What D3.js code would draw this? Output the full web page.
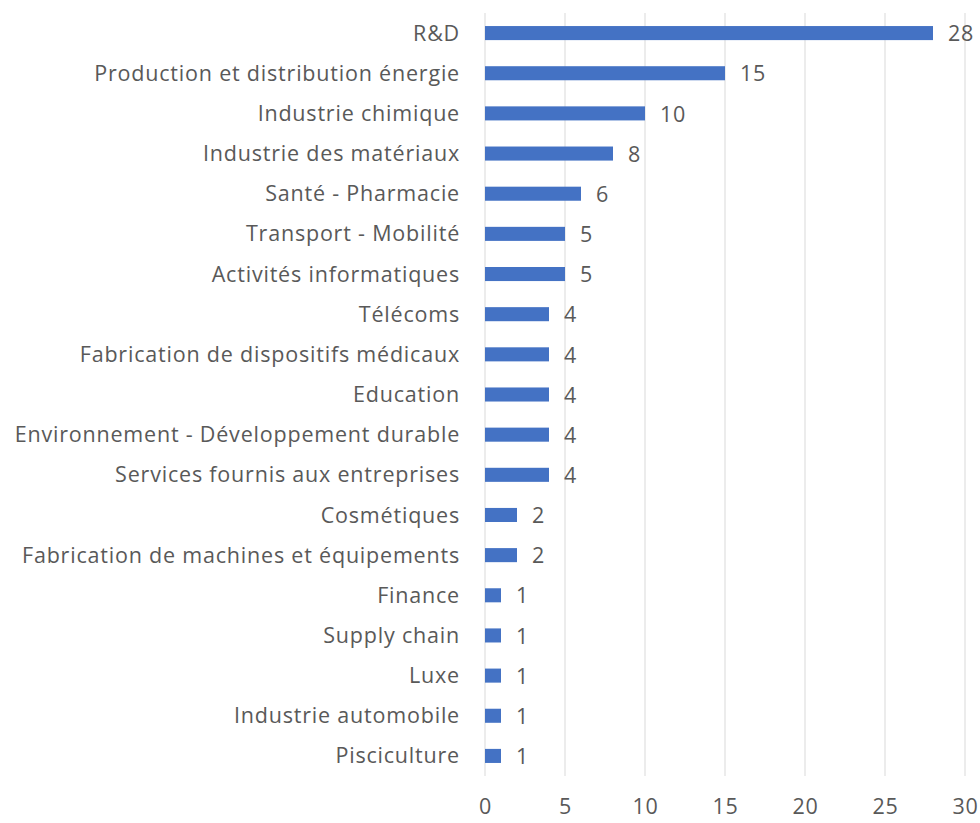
<!DOCTYPE html>
<html>
<head>
<meta charset="utf-8">
<script src="https://cdn.jsdelivr.net/npm/d3@7"></script>
<style>
  html, body { margin: 0; padding: 0; background: #fff; }
  svg { display: block; }
  text { font-family: "Open Sans", Lato, sans-serif; fill: #595959; }
</style>
</head>
<body>
<svg id="chart" width="980" height="823"></svg>
<script>
// Sectors and counts, top to bottom
const categories = [
  "R&D",
  "Production et distribution énergie",
  "Industrie chimique",
  "Industrie des matériaux",
  "Santé - Pharmacie",
  "Transport - Mobilité",
  "Activités informatiques",
  "Télécoms",
  "Fabrication de dispositifs médicaux",
  "Education",
  "Environnement - Développement durable",
  "Services fournis aux entreprises",
  "Cosmétiques",
  "Fabrication de machines et équipements",
  "Finance",
  "Supply chain",
  "Luxe",
  "Industrie automobile",
  "Pisciculture"
];
const values = [28, 15, 10, 8, 6, 5, 5, 4, 4, 4, 4, 4, 2, 2, 1, 1, 1, 1, 1];
const xTicks = [0, 5, 10, 15, 20, 25, 30];

const FONT = "'Open Sans', Lato, sans-serif";
const FONT_SIZE = "21.5px";
const SPACING = "0.8px";
const svg = d3.select("#chart");
const plot = { left: 485, right: 965, top: 13, bottom: 776 };

const x = d3.scaleLinear().domain([0, 30]).range([plot.left, plot.right]);
const y = d3.scaleBand()
  .domain(categories)
  .range([plot.top, plot.bottom])
  .paddingInner(0.65)
  .paddingOuter(0.325);

// Vertical gridlines
svg.append("g")
  .selectAll("line")
  .data(xTicks)
  .join("line")
  .attr("x1", d => x(d)).attr("x2", d => x(d))
  .attr("y1", plot.top).attr("y2", plot.bottom)
  .attr("stroke", "#d9d9d9")
  .attr("stroke-width", 1);

// X axis tick labels
const xAxis = d3.axisBottom(x).tickValues(xTicks).tickSize(0).tickPadding(0);
const gx = svg.append("g").attr("transform", `translate(0,${plot.bottom})`).call(xAxis);
gx.select(".domain").remove();
gx.selectAll("text")
  .attr("dy", null)
  .attr("y", 38)
  .style("font-size", FONT_SIZE)
  .style("letter-spacing", SPACING)
  .style("font-family", FONT)
  .attr("fill", "#595959");

// Category labels
const yAxis = d3.axisLeft(y).tickSize(0).tickPadding(0);
const gy = svg.append("g").attr("transform", `translate(${plot.left - 25},0)`).call(yAxis);
gy.select(".domain").remove();
gy.selectAll("text")
  .attr("dy", "0.35em")
  .style("font-size", FONT_SIZE)
  .style("letter-spacing", SPACING)
  .style("font-family", FONT)
  .attr("fill", "#595959");

// Bars
svg.append("g")
  .selectAll("rect")
  .data(categories)
  .join("rect")
  .attr("x", x(0))
  .attr("y", d => y(d))
  .attr("width", (d, i) => x(values[i]) - x(0))
  .attr("height", y.bandwidth())
  .attr("fill", "#4472c4");

// Value labels
svg.append("g")
  .selectAll("text")
  .data(categories)
  .join("text")
  .attr("x", (d, i) => x(values[i]) + 15)
  .attr("y", d => y(d) + y.bandwidth() / 2)
  .attr("dy", "0.38em")
  .style("font-size", FONT_SIZE)
  .style("letter-spacing", SPACING)
  .text((d, i) => values[i]);
</script>
</body>
</html>
